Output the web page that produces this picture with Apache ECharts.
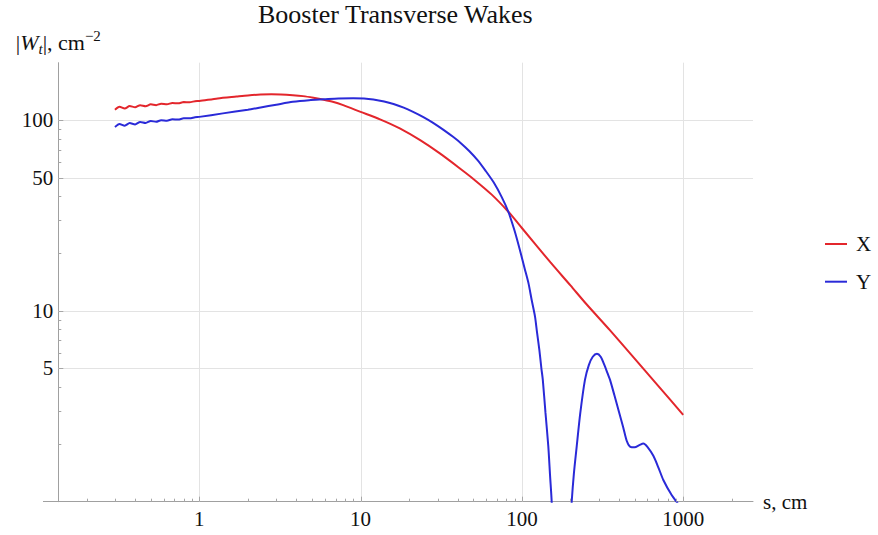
<!DOCTYPE html>
<html><head><meta charset="utf-8">
<script src="https://cdn.jsdelivr.net/npm/echarts@6/dist/echarts.min.js"></script>
<style>html,body{margin:0;padding:0;background:#fff}#c{width:878px;height:535px}</style>
</head><body><div id="c"></div>
<script>
const titleText = 'Booster Transverse Wakes';
const seriesNames = ['X', 'Y'];
// [s (cm), |W_t| (cm^-2)]
const wakeX = [[0.30,113.5],[0.32,117.5],[0.345,115],[0.37,118.5],[0.40,116.8],[0.43,119.8],[0.465,118.3],[0.50,121],[0.54,119.8],[0.58,122],[0.63,121],[0.68,123],[0.74,122.5],[0.80,124.3],[0.87,124.2],[0.94,125.6],[1.0,126],
  [1.3,130],[1.7,133],[2.0,134.8],[2.4,136.2],[2.8,136.6],[3.2,136.4],[3.8,135.2],[4.4,133.6],[5.1,131],[5.9,128],[6.8,124.5],[7.8,119.8],[10,110.5],[13.2,101],[17.5,90.5],[23.4,78.5],[31,66.9],[41.3,55.8],[50,49.2],[65,40.7],[82.4,33.1],[100,27.2],[150,18],[200,13.6],[250,10.9],[350,7.95],[460,6.1],[700,4.05],[1000,2.85]];
const wakeY = [[0.30,92],[0.32,95.5],[0.345,93.5],[0.37,96.5],[0.40,95],[0.43,97.8],[0.465,96.6],[0.50,99],[0.54,98],[0.58,100],[0.63,99.3],[0.68,101],[0.74,100.7],[0.80,102.2],[0.87,102.2],[0.94,103.5],[1.0,104],
  [1.4,108.5],[2.0,113.3],[2.4,116.5],[3.0,120.5],[3.8,124.8],[4.8,127.3],[5.9,128.5],[7.3,129.8],[9.0,130.3],[10.5,129.9],[12,128.3],[14,125.2],[16,121.5],[18.5,116.3],[21,110.9],[24.5,103.8],[28,97.1],[32.5,89.2],[37.6,81.5],[42.2,75.3],[47.3,68.7],[53.1,61.7],[59.6,54.2],[66.8,47.2],[75,39.5],[82.4,33.1],[90,26.4],[97,21],[104,16.7],[110,13.9],[115,11.4],[120.6,9.34],[124,7.77],[128.3,6.25],[132,5.02],[134.8,4.35],[140,2.93],[145.8,1.95],[149.5,1.37],[153,1.0],[156,0.6],[159,0.25],[160.6,0.02],[170,0.3],[180,0.3],[187.7,0.02],[190,0.15],[195,0.46],[199,0.71],[203.6,1.0],[210,1.4],[218.7,1.95],[230,2.9],[246,4.35],[260,5.2],[275,5.75],[292,5.96],[308,5.75],[325,5.2],[340,4.7],[352,4.35],[375,3.6],[400,2.95],[425,2.45],[447,2.08],[470,1.94],[500,1.93],[535,1.98],[566,2.02],[600,1.94],[653,1.74],[700,1.52],[753,1.3],[850,1.08],[933,0.97],[1000,0.88]];
const xLabelTicks = [1, 10, 100, 1000];
const xMinorTicks = [0.2,0.3,0.4,0.5,0.6,0.7,0.8,0.9,2,3,4,5,6,7,8,9,20,30,40,50,60,70,80,90,200,300,400,500,600,700,800,900,2000];
const yLabelTicks = [5, 10, 50, 100];
const yMinorTicks = [2,3,4,6,7,8,9,20,30,40,60,70,80,90];
const xRange = [0.1336, 2709];
const yRange = [1, 200];

const FONT = 'Liberation Serif';
const TICK = '#a6a6a6', GRID = '#e3e3e3', AXIS = '#a0a0a0';
const RED = '#e3262c', BLUE = '#2a2ad8';

function xTick(len) {
  return function (params, api) {
    const p = api.coord([api.value(0), yRange[0]]);
    return {type: 'line', shape: {x1: Math.round(p[0]) + 0.5, y1: p[1], x2: Math.round(p[0]) + 0.5, y2: p[1] - len}, style: {stroke: TICK, lineWidth: 1}};
  };
}
function yTick(len) {
  return function (params, api) {
    const p = api.coord([xRange[0], api.value(1)]);
    return {type: 'line', shape: {x1: p[0], y1: Math.round(p[1]) + 0.5, x2: p[0] + len, y2: Math.round(p[1]) + 0.5}, style: {stroke: TICK, lineWidth: 1}};
  };
}

const chart = echarts.init(document.getElementById('c'), null, {renderer: 'svg'});
chart.setOption({
  animation: false,
  backgroundColor: '#fff',
  title: {text: titleText, left: 258, top: 1, padding: 0,
    textStyle: {fontFamily: FONT, fontSize: 26, fontWeight: 'normal', color: '#111'}},
  legend: {data: seriesNames.map(n => ({name: n, icon: 'rect'})), orient: 'vertical', left: 825, top: 233, padding: 0,
    itemWidth: 22, itemHeight: 2, itemGap: 15.7,
    textStyle: {fontFamily: FONT, fontSize: 21, color: '#111', lineHeight: 22, padding: [0, 0, 0, 4]}},
  grid: {left: 58.3, right: 125, top: 62.7, bottom: 33.3, containLabel: false},
  xAxis: {type: 'log', logBase: 10, min: xRange[0], max: xRange[1],
    name: 's, cm', nameLocation: 'end', nameGap: 10,
    nameTextStyle: {fontFamily: FONT, fontSize: 21, color: '#111', verticalAlign: 'middle'},
    axisLine: {show: true, lineStyle: {color: AXIS, width: 1}},
    axisTick: {show: false}, splitLine: {show: false},
    axisLabel: {show: true, interval: 0, showMinLabel: false, showMaxLabel: false, margin: 7,
      fontFamily: FONT, fontSize: 21, color: '#111',
      formatter: v => String(Math.round(v))}},
  yAxis: {type: 'log', logBase: 10, min: yRange[0], max: yRange[1],
    name: '{i||}{w|W}{s|t}{i||, cm}{p|−2}', nameLocation: 'end', nameGap: 6,
    nameTextStyle: {fontFamily: FONT, fontSize: 22, color: '#111', align: 'center',
      rich: {
        i: {fontFamily: FONT, fontSize: 22, color: '#111', lineHeight: 28},
        w: {fontFamily: FONT, fontSize: 22, color: '#111', fontStyle: 'italic', lineHeight: 28},
        s: {fontFamily: FONT, fontSize: 15, color: '#111', fontStyle: 'italic', verticalAlign: 'bottom', lineHeight: 15},
        p: {fontFamily: FONT, fontSize: 15, color: '#111', verticalAlign: 'top', lineHeight: 15}
      }},
    axisLine: {show: true, lineStyle: {color: AXIS, width: 1}},
    axisTick: {show: false}, splitLine: {show: false}, axisLabel: {show: false}},
  graphic: [{type: 'line', silent: true, shape: {x1: 43, y1: 501.5, x2: 58.3, y2: 501.5}, style: {stroke: AXIS, lineWidth: 1}}],
  series: [
    {type: 'custom', name: 'xgrid', silent: true, z: 1, clip: false,
      data: xLabelTicks.map(v => [v, yRange[0]]),
      renderItem: function (params, api) {
        const a = api.coord([api.value(0), yRange[0]]), b = api.coord([api.value(0), yRange[1]]);
        const x = Math.round(a[0]) + 0.5;
        return {type: 'line', shape: {x1: x, y1: a[1], x2: x, y2: b[1]}, style: {stroke: GRID, lineWidth: 1}};
      }},
    {type: 'custom', name: 'ygrid', silent: true, z: 1, clip: false,
      data: yLabelTicks.map(v => [xRange[0], v]),
      renderItem: function (params, api) {
        const a = api.coord([xRange[0], api.value(1)]), b = api.coord([xRange[1], api.value(1)]);
        const y = Math.round(a[1]) + 0.5;
        return {type: 'line', shape: {x1: a[0], y1: y, x2: b[0], y2: y}, style: {stroke: GRID, lineWidth: 1}};
      }},
    {type: 'custom', name: 'xmajor', silent: true, z: 3, clip: false,
      data: xLabelTicks.map(v => [v, yRange[0]]), renderItem: xTick(5)},
    {type: 'custom', name: 'xminor', silent: true, z: 3, clip: false,
      data: xMinorTicks.map(v => [v, yRange[0]]), renderItem: xTick(3)},
    {type: 'custom', name: 'ymajor', silent: true, z: 3, clip: false,
      data: yLabelTicks.map(v => [xRange[0], v]), renderItem: yTick(5)},
    {type: 'custom', name: 'yminor', silent: true, z: 3, clip: false,
      data: yMinorTicks.map(v => [xRange[0], v]), renderItem: yTick(3)},
    {type: 'custom', name: 'ylabels', silent: true, z: 3, clip: false,
      data: yLabelTicks.map(v => [xRange[0], v]),
      renderItem: function (params, api) {
        const p = api.coord([xRange[0], api.value(1)]);
        return {type: 'text', x: p[0] - 5, y: p[1],
          style: {text: String(api.value(1)), fontFamily: FONT, fontSize: 21, fill: '#111', align: 'right', verticalAlign: 'middle'}};
      }},
    {type: 'line', name: seriesNames[0], data: wakeX, symbol: 'none', showSymbol: false, smooth: 0.25,
      z: 2, clip: true, lineStyle: {color: RED, width: 2}, itemStyle: {color: RED}},
    {type: 'line', name: seriesNames[1], data: wakeY, symbol: 'none', showSymbol: false, smooth: 0.25,
      z: 2, clip: true, lineStyle: {color: BLUE, width: 2}, itemStyle: {color: BLUE}}
  ]
});
</script></body></html>
